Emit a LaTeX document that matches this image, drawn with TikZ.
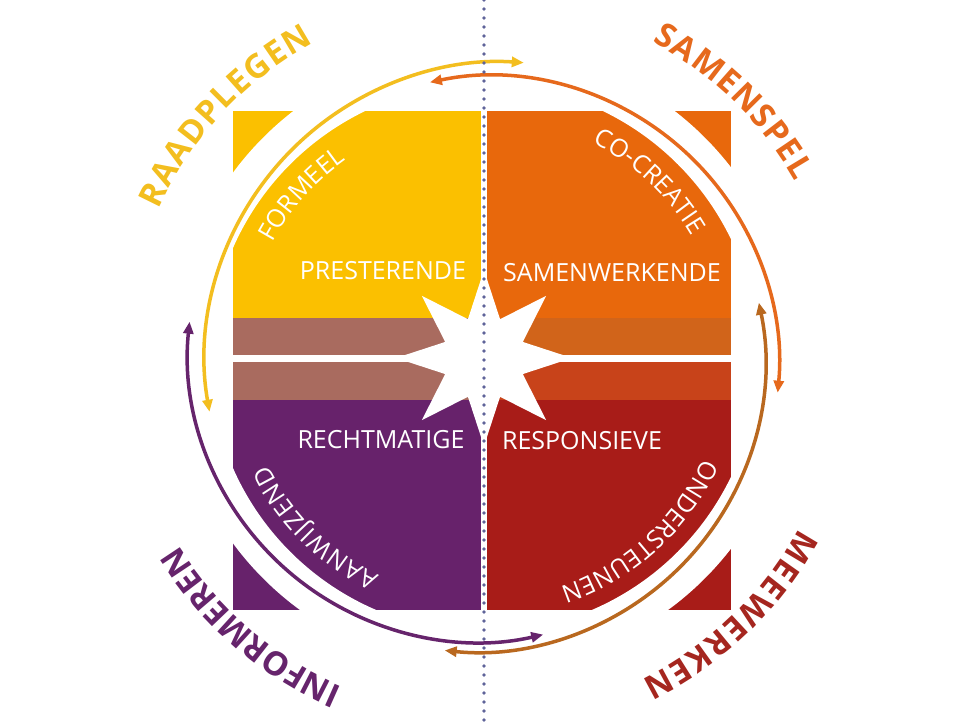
\documentclass[tikz,border=0pt]{standalone}
\usepackage{fontspec}
\newfontfamily\osans{Open Sans}
\usetikzlibrary{decorations.text,arrows.meta,calc}
\definecolor{cyel}{HTML}{FBC000}
\definecolor{cora}{HTML}{E8680C}
\definecolor{cred}{HTML}{A81C18}
\definecolor{cpur}{HTML}{67226B}
\definecolor{cbrl}{HTML}{A96B5F}
\definecolor{cboa}{HTML}{D1641A}
\definecolor{cbob}{HTML}{C8431A}
\definecolor{ayel}{HTML}{F3BE1F}
\definecolor{aora}{HTML}{E6691C}
\definecolor{abrn}{HTML}{B9681F}
\definecolor{apur}{HTML}{66246C}
\definecolor{tred}{HTML}{A5261F}
\definecolor{dotc}{HTML}{5F6399}
\begin{document}
\begin{tikzpicture}[x=1pt,y=1pt,
  arcline/.style={line width=3.5pt, {Triangle[length=12pt,width=10pt]}-{Triangle[length=12pt,width=10pt]}},
  lbl/.style={anchor=base, inner sep=0pt, text=white, font=\osans\fontsize{25}{25}\selectfont},
  dotline/.style={dotc, line width=3.8pt, line cap=round, dash pattern=on 0pt off 9pt}]
\useasboundingbox (-484,-367) rectangle (492,358);
\fill[white] (-484,-367) rectangle (492,358);
% quadrants
\fill[cyel] (-251,40) rectangle (-3,247);
\fill[cbrl] (-251,3) rectangle (-3,40);
\fill[cbrl] (-251,-42) rectangle (-3,-4);
\fill[cpur] (-251,-252) rectangle (-3,-42);
\fill[cora] (3,40) rectangle (247,247);
\fill[cboa] (3,3) rectangle (247,40);
\fill[cbob] (3,-42) rectangle (247,-4);
\fill[cred] (3,-252) rectangle (247,-42);
% white ring
\fill[white, even odd rule] (0,0) circle[radius=312pt] (0,0) circle[radius=274pt];
% star
\fill[white] (0:88pt) -- (22.5:42pt) -- (45:88pt) -- (67.5:42pt) -- (90:88pt) -- (112.5:42pt)
  -- (135:88pt) -- (157.5:42pt) -- (180:88pt) -- (202.5:42pt) -- (225:88pt) -- (247.5:42pt)
  -- (270:88pt) -- (292.5:42pt) -- (315:88pt) -- (337.5:42pt) -- cycle;
% arcs
\coordinate (cy) at (19,-2);
\coordinate (co) at (6,-7);
\coordinate (cb) at (-9,-4);
\coordinate (cp) at (-6,6);
\draw[arcline, ayel] ($(cy)+(190:298pt)$) arc[start angle=190, end angle=86, radius=298pt];
\draw[arcline, aora] ($(co)+(102:289pt)$) arc[start angle=102, end angle=-5.5, radius=289pt];
\draw[arcline, abrn] ($(cb)+(11.8:290pt)$) arc[start angle=11.8, end angle=-96, radius=290pt];
\draw[arcline, apur] ($(cp)+(174:290pt)$) arc[start angle=174, end angle=283, radius=290pt];
% dotted divider
\coordinate (dtop) at (0,358);
\coordinate (dbot) at (0,-367);
\draw[dotline] (dtop) -- (dbot);
% horizontal labels
\node[lbl] (pres) at (-101,78) {PRESTERENDE};
\node[lbl] (samw) at (128,76) {SAMENWERKENDE};
\node[lbl] (rech) at (-103,-90) {RECHTMATIGE};
\node[lbl] (resp) at (98,-91) {RESPONSIEVE};
% curved inner labels
\path[decorate, decoration={text along path, text color=white, text align={fit to path},
  text={|\osans\fontsize{25}{25}\selectfont|FORMEEL}}] (151.5:241pt) arc[start angle=151.5, end angle=124.8, radius=241pt];
\path[decorate, decoration={text along path, text color=white, text align={fit to path},
  text={|\osans\fontsize{25}{25}\selectfont|CO-CREATIE}}] (63.3:241pt) arc[start angle=63.3, end angle=30.4, radius=241pt];
\path[decorate, decoration={text along path, text color=white, text align={fit to path},
  text={|\osans\fontsize{25}{25}\selectfont|AANWIJZEND}}] (244.2:241pt) arc[start angle=244.2, end angle=206.2, radius=241pt];
\path[decorate, decoration={text along path, text color=white, text align={fit to path},
  text={|\osans\fontsize{25}{25}\selectfont|ONDERSTEUNEN}}] (-24.5:241pt) arc[start angle=-24.5, end angle=-71.6, radius=241pt];
% outer labels
\path[decorate, decoration={text along path, text color=ayel, text align={fit to path},
  text={|\osans\bfseries\fontsize{33}{33}\selectfont|RAADPLEGEN}}] (155.5:358pt) arc[start angle=155.5, end angle=118.4, radius=358pt];
\path[decorate, decoration={text along path, text color=aora, text align={fit to path},
  text={|\osans\bfseries\fontsize{33}{33}\selectfont|SAMENSPEL}}] (62:358pt) arc[start angle=62, end angle=29.6, radius=358pt];
\path[decorate, decoration={text along path, text color=tred, text align={fit to path},
  text={|\osans\bfseries\fontsize{33}{33}\selectfont|MEEWERKEN}}] (-28.4:358pt) arc[start angle=-28.4, end angle=-63.9, radius=358pt];
\path[decorate, decoration={text along path, text color=apur, text align={fit to path},
  text={|\osans\bfseries\fontsize{33}{33}\selectfont|INFORMEREN}}] (246.8:358pt) arc[start angle=246.8, end angle=211.5, radius=358pt];
\end{tikzpicture}
\end{document}
